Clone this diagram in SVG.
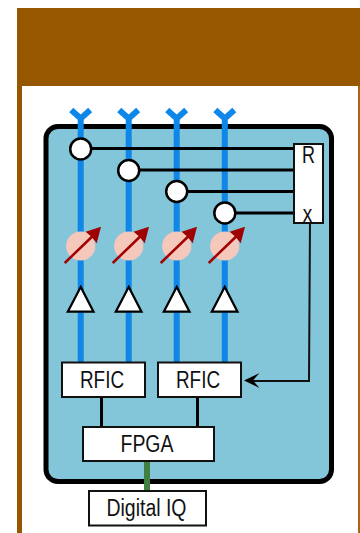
<svg xmlns="http://www.w3.org/2000/svg" width="360" height="533" viewBox="0 0 360 533">
<style>
text{font-family:"Liberation Sans",Arial,sans-serif;fill:#111;text-anchor:middle;font-size:23.5px}
.box{fill:#fff;stroke:#111;stroke-width:2}
.feed{stroke:#0f87e8;stroke-width:6;fill:none}
.wire{stroke:#000;stroke-width:3;fill:none}
.thin{stroke:#111;stroke-width:2;fill:none}
.port{fill:#fff;stroke:#000;stroke-width:2.5}
.ps{fill:#f5c8bc}
.psa{stroke:#a00000;stroke-width:2.500;fill:none}
.psh{fill:#a00000}
.amp{fill:#fff;stroke:#000;stroke-width:2.2;stroke-linejoin:miter}
</style>
<defs>
<g id="ant"><path class="feed" d="M-9.500 110L0 118.500L9.500 110M0 118V362"/></g>
<g id="shifter"><circle class="ps" r="14.600"/><path class="psa" d="M-16 17L12 -10"/><path class="psh" d="M20.300 -19.300L5 -14.300L11 -9L16 -2.700Z"/></g>
</defs>
<rect id="frame-top" x="17" y="8" width="343" height="78" fill="#975700"/>
<rect id="frame-left" x="17" y="86" width="5" height="447" fill="#975700"/>
<rect id="frame-right" x="358" y="86" width="2" height="447" fill="#a9650f"/>
<rect id="panel" x="46" y="126.500" width="285.500" height="355" rx="12" fill="#83c5d9" stroke="#000" stroke-width="5"/>
<g id="connectors">
<use href="#ant" x="80.700"/><use href="#ant" x="128.700"/><use href="#ant" x="176.700"/><use href="#ant" x="224.800"/>
<path class="wire" d="M80.700 148.500H294M128.700 170H294M176.700 191.500H294M224.800 213H294"/>
<path class="wire" d="M101.500 397V427M197.500 397V427"/>
<path d="M147 461V491" stroke="#3f7f3f" stroke-width="6" fill="none"/>
<path class="thin" d="M310 223L309 381H250"/>
<path d="M244 380.500L259.500 373L253 380.500L259.500 388Z" fill="#000"/>
</g>
<g id="couplers">
<circle class="port" cx="80.700" cy="149" r="10.500"/><circle class="port" cx="128.700" cy="170.500" r="10.500"/><circle class="port" cx="176.700" cy="191.500" r="10.500"/><circle class="port" cx="224.800" cy="213" r="10.500"/>
</g>
<g id="shifters">
<use href="#shifter" x="80.700" y="246"/><use href="#shifter" x="128.700" y="246"/><use href="#shifter" x="176.700" y="246"/><use href="#shifter" x="224.700" y="246"/>
</g>
<g id="amps">
<path class="amp" d="M80.700 287L67.800 311.700H93.500Z"/><path class="amp" d="M128.700 287L115.800 311.700H141.500Z"/><path class="amp" d="M176.700 287L163.800 311.700H189.500Z"/><path class="amp" d="M224.700 287L211.800 311.700H237.500Z"/>
</g>
<g id="combiner"><rect class="box" x="294" y="144" width="29" height="79"/><text x="308.500" y="163.300" textLength="13" lengthAdjust="spacingAndGlyphs">R</text><text x="307.500" y="221.700" textLength="9.500" lengthAdjust="spacingAndGlyphs">x</text></g>
<g id="rfic1"><rect class="box" x="62" y="362.500" width="83" height="34.500"/><text x="102" y="388.300" textLength="44" lengthAdjust="spacingAndGlyphs">RFIC</text></g>
<g id="rfic2"><rect class="box" x="158" y="362.500" width="83" height="34.500"/><text x="198" y="388.300" textLength="44" lengthAdjust="spacingAndGlyphs">RFIC</text></g>
<g id="fpga"><rect class="box" x="83" y="427" width="131" height="34"/><text x="147" y="452.300" textLength="53" lengthAdjust="spacingAndGlyphs">FPGA</text></g>
<g id="digital"><rect class="box" x="89" y="491" width="117" height="34.500"/><text x="146.500" y="516.300" textLength="80" lengthAdjust="spacingAndGlyphs">Digital IQ</text></g>
</svg>
